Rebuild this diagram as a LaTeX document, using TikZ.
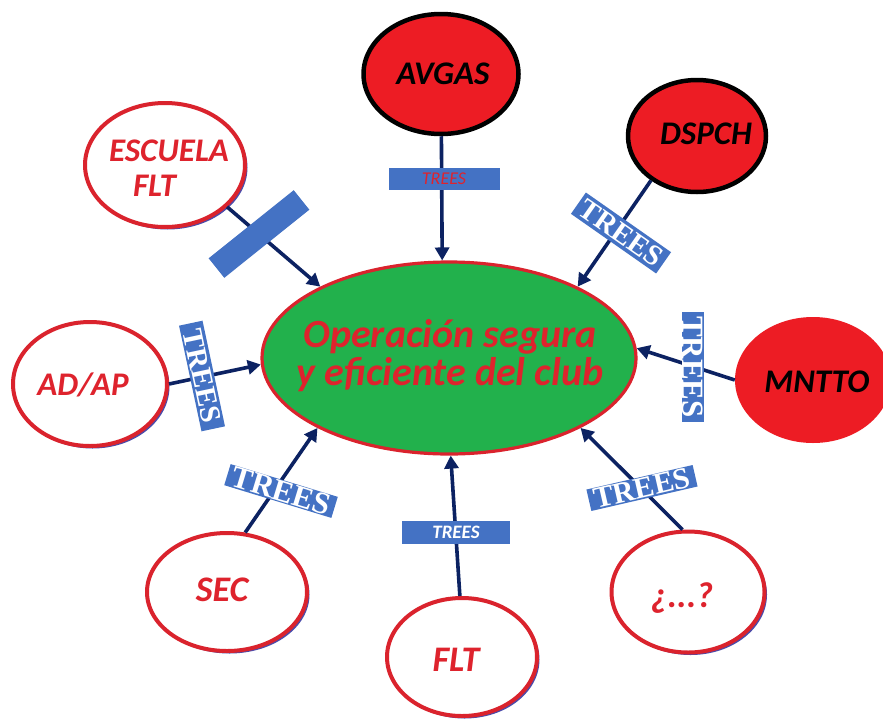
\documentclass[tikz,border=0pt]{standalone}
\usepackage{fontspec}
\setmainfont{Carlito}
\newfontfamily\serifb{Liberation Serif}
\usetikzlibrary{shapes.geometric,arrows.meta,shadows}
\definecolor{nred}{RGB}{237,28,36}
\definecolor{bred}{RGB}{218,35,45}
\definecolor{tred}{RGB}{222,35,45}
\definecolor{cgreen}{RGB}{34,177,76}
\definecolor{tblue}{RGB}{68,114,196}
\definecolor{navy}{RGB}{12,34,98}
\definecolor{shblue}{RGB}{75,75,170}
\newcommand\myfs[1]{\fontsize{#1}{#1}\selectfont\bfseries\itshape}
\newcommand\myfsi[1]{\fontsize{#1}{#1}\selectfont\itshape}
\newcommand\myser[1]{\fontsize{#1}{#1}\selectfont\serifb\bfseries}
\begin{document}
\begin{tikzpicture}[x=1pt,y=-1pt,
  whiteel/.style={ellipse, draw=bred, line width=4pt, fill=white, inner sep=0,
     drop shadow={shadow xshift=2.5pt,shadow yshift=-2.5pt,fill=shblue,opacity=1}},
  redel/.style={ellipse, fill=nred, draw=black, line width=4.5pt, inner sep=0},
  redtxt/.style={text=tred, inner sep=0, align=center},
  blktxt/.style={text=black, inner sep=0, align=center},
  arr/.style={draw=navy, line width=3.6pt, -{Triangle[length=13pt,width=14pt]}},
  tbox/.style={fill=tblue, inner sep=0, text=white},
]
\useasboundingbox (0,0) rectangle (883,723);
\fill[white] (0,0) rectangle (883,723);

% centre
\node[ellipse, fill=cgreen, draw=bred, line width=3.2pt, inner sep=0,
      minimum width=374pt, minimum height=192pt] (c) at (449,358) {};
\node[redtxt, font=\myfs{40}] (ct) at (450,356) {Operación segura\\[-2pt]y eficiente del club};

% outer ellipses
\node[redel, minimum width=155pt, minimum height=120pt] (avgas) at (441,74) {};
\node[blktxt, font=\myfs{33}] (avgast) at (443,74) {AVGAS};

\node[redel, minimum width=138pt, minimum height=112pt] (dspch) at (697,136) {};
\node[blktxt, font=\myfs{33}] (dspcht) at (706,134) {DSPCH};

\node[ellipse, fill=nred, inner sep=0, minimum width=156pt, minimum height=126pt] (mntto) at (813,380) {};
\node[blktxt, font=\myfs{33}] (mnttot) at (817,382) {MNTTO};

\node[whiteel, minimum width=160pt, minimum height=124pt] (escuela) at (165,165) {};
\node[redtxt, font=\myfs{33}, align=left] (escuelat) at (169,168) {ESCUELA\\[2pt]\hspace*{24pt}FLT};

\node[whiteel, minimum width=154pt, minimum height=124pt] (adap) at (90,384) {};
\node[redtxt, font=\myfs{33}] (adapt) at (83,385) {AD/AP};

\node[whiteel, minimum width=160pt, minimum height=118pt] (sec) at (227,592) {};
\node[redtxt, font=\myfs{36}] (sect) at (222,590) {SEC};

\node[whiteel, minimum width=150pt, minimum height=118pt] (flt) at (462,657) {};
\node[redtxt, font=\myfs{36}] (fltt) at (456,660) {FLT};

\node[whiteel, minimum width=153pt, minimum height=121pt] (q) at (688,592) {};
\node[redtxt, font=\myfs{36}] (qt) at (682,598) {¿...?};

% connectors
\draw[arr] (avgas) -- (c.94);
\draw[arr] (dspch.224) -- (c.29);
\draw[arr] (escuela.-34) -- (c.151);
\draw[arr] (adap.east) -- (c.182);
\draw[arr] (mntto.west) -- (c.3);
\draw[arr] (sec.73) -- (c.208);
\draw[arr] (flt.92) -- (c.271);
\draw[arr] (q.95) -- (c.332);

% TREES boxes
\node[tbox, minimum width=111pt, minimum height=22pt, text=tred, font=\myfsi{18}] (t1) at (444,179) {TREES};
\node[tbox, minimum width=108pt, minimum height=23pt, font=\myfs{19}] (t2) at (456,532) {TREES};
\node[tbox, minimum width=104pt, minimum height=26pt, rotate=-35, font=\myser{29}] (t3) at (621,233) {TREES};
\node[tbox, minimum width=109pt, minimum height=25pt, rotate=38.7] (t4) at (259,234) {};
\node[tbox, minimum width=108pt, minimum height=24pt, rotate=-78, font=\myser{29}] (t5) at (202,376) {TREES};
\node[tbox, minimum width=110pt, minimum height=22pt, rotate=-90, font=\myser{31}] (t6) at (693,367) {TREES};
\node[tbox, minimum width=112pt, minimum height=22pt, rotate=-17, font=\myser{31}] (t7) at (281,491) {TREES};
\node[tbox, minimum width=109pt, minimum height=22pt, rotate=13, font=\myser{30}] (t8) at (642,488) {TREES};
\end{tikzpicture}
\end{document}
